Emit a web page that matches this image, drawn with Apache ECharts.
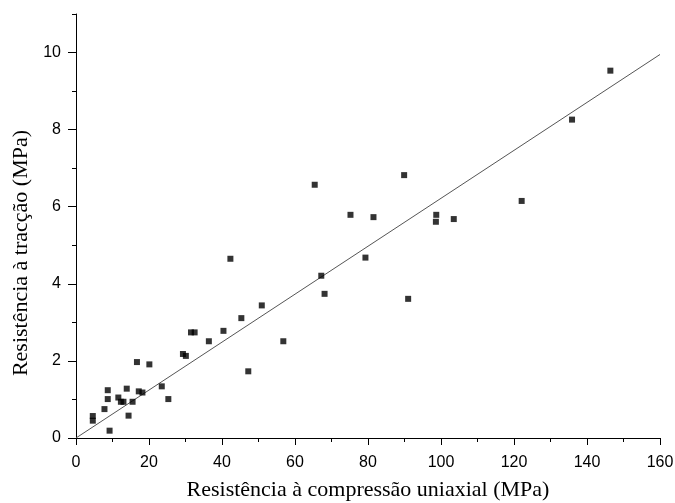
<!DOCTYPE html>
<html>
<head>
<meta charset="utf-8">
<script src="https://cdn.jsdelivr.net/npm/echarts@6/dist/echarts.min.js"></script>
<style>html,body{margin:0;padding:0;background:#fff}#c{width:675px;height:503px}</style>
</head>
<body>
<div id="c"></div>
<script>
const compressao = [4.6,4.6,9.2,7.8,8.7,8.7,11.6,12.3,13.0,13.9,14.4,15.5,16.7,17.2,18.2,20.1,23.5,25.3,29.3,30.1,31.5,32.5,36.4,40.4,42.3,45.3,47.2,50.9,56.8,67.2,68.1,65.4,75.2,81.5,79.3,89.9,91.0,98.7,98.6,103.5,122.1,135.9,146.4];
const traccao = [0.57,0.45,0.19,0.75,1.01,1.24,1.05,0.94,0.94,1.28,0.58,0.94,1.97,1.21,1.18,1.91,1.34,1.01,2.18,2.13,2.74,2.74,2.51,2.78,4.65,3.11,1.73,3.44,2.51,4.21,3.74,6.57,5.79,5.73,4.68,6.82,3.61,5.79,5.61,5.68,6.15,8.26,9.53];
const fitX = [0, 160];
const fitY = [0, 9.95];
const yMajorTicks = [0,2,4,6,8,10];
const yMinorTicks = [1,3,5,7,9,11];
const xMajorTicks = [0,20,40,60,80,100,120,140,160];
const xMinorTicks = [10,30,50,70,90,110,130,150];
const xTitle = 'Resistência à compressão uniaxial (MPa)';
const yTitle = 'Resistência à tracção (MPa)';

const chart = echarts.init(document.getElementById('c'), null, {renderer:'canvas'});
const labelFont = {color:'#000', fontFamily:'Liberation Sans, Arial, sans-serif', fontSize:16};
const titleFont = {color:'#000', fontFamily:'Liberation Serif, Times New Roman, serif', fontSize:22};
chart.setOption({
  animation:false,
  grid:{left:76, right:15, top:14, bottom:65, containLabel:false, outerBoundsMode:'none'},
  xAxis:[{
    type:'value', min:0, max:160, interval:20, position:'bottom',
    axisLine:{show:true, onZero:false, lineStyle:{color:'#000', width:1}},
    axisTick:{show:true, length:7, inside:false, customValues:xMajorTicks, lineStyle:{color:'#000'}},
    axisLabel:{...labelFont, margin:17, customValues:xMajorTicks},
    splitLine:{show:false},
    name:xTitle, nameLocation:'middle', nameGap:41, nameTextStyle:titleFont
  },{
    type:'value', min:0, max:160, interval:10, position:'bottom',
    axisLine:{show:false},
    axisTick:{show:true, length:4, customValues:xMinorTicks, lineStyle:{color:'#000'}},
    axisLabel:{show:false}, splitLine:{show:false}
  }],
  yAxis:[{
    type:'value', min:0, max:11, interval:2, position:'left',
    axisLine:{show:true, onZero:false, lineStyle:{color:'#000', width:1}},
    axisTick:{show:true, length:8, customValues:yMajorTicks, lineStyle:{color:'#000'}},
    axisLabel:{...labelFont, margin:15, customValues:yMajorTicks},
    splitLine:{show:false},
    name:yTitle, nameLocation:'middle', nameGap:44, nameRotate:90,
    nameTextStyle:{...titleFont, padding:[0,54,0,0]}
  },{
    type:'value', min:0, max:11, interval:1, position:'left',
    axisLine:{show:false},
    axisTick:{show:true, length:4, customValues:yMinorTicks, lineStyle:{color:'#000'}},
    axisLabel:{show:false}, splitLine:{show:false}
  }],
  series:[{
    type:'line', xAxisIndex:0, yAxisIndex:0,
    data:fitX.map((x,i)=>[x,fitY[i]]),
    showSymbol:false, symbol:'none',
    lineStyle:{color:'#555', width:1}, silent:true, z:1
  },{
    type:'scatter', xAxisIndex:0, yAxisIndex:0,
    data:compressao.map((x,i)=>[x,traccao[i]]),
    symbol:'rect', symbolSize:6,
    itemStyle:{color:'#000'}, z:2
  }]
});
</script>
</body>
</html>
